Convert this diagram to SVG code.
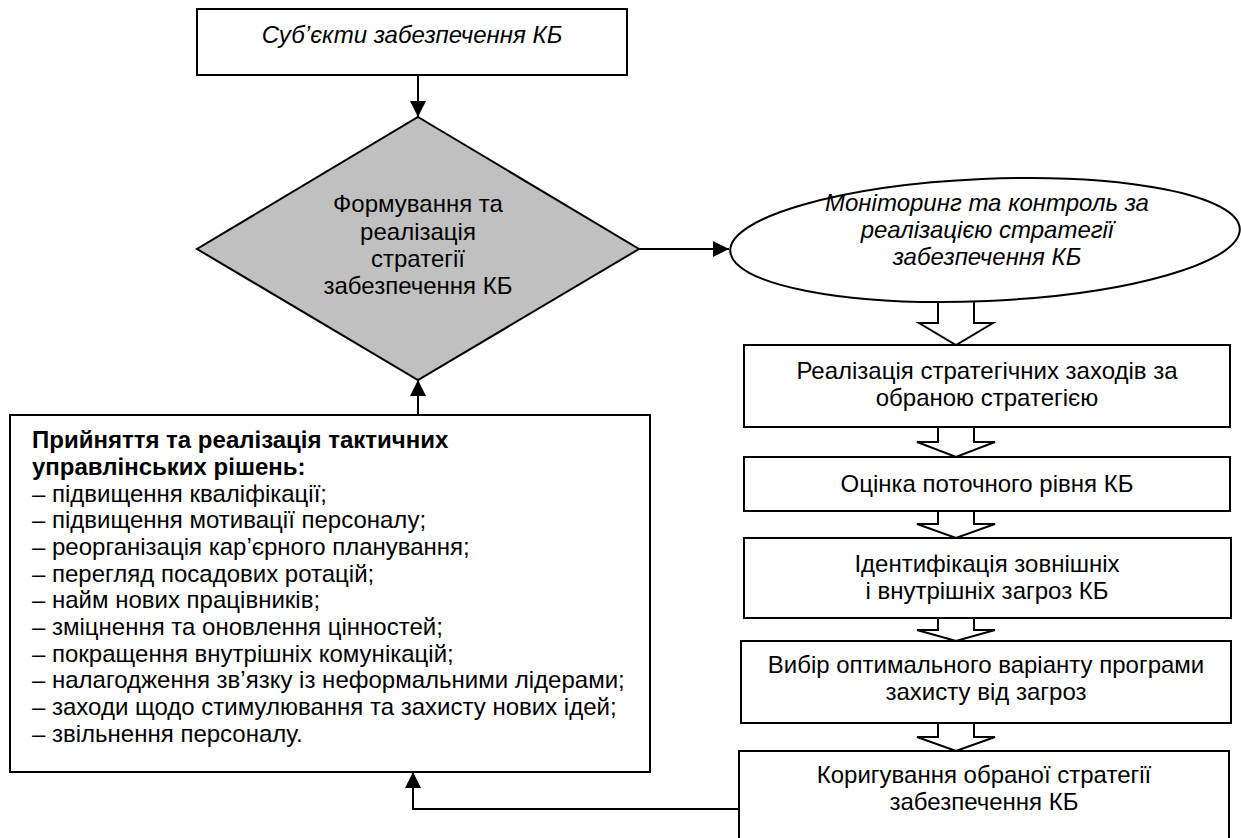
<svg xmlns="http://www.w3.org/2000/svg" width="1241" height="838" viewBox="0 0 1241 838">
<defs>
<style>
.box{fill:#fff;stroke:#000;stroke-width:2}
.dia{fill:#c0c0c0;stroke:#000;stroke-width:2}
.blk{fill:#fff;stroke:#000;stroke-width:2;stroke-linejoin:miter}
.ln{fill:none;stroke:#000;stroke-width:2}
text{font-family:"Liberation Sans",Arial,sans-serif;font-size:24px;fill:#000}
.c{text-anchor:middle}
.i{font-style:italic}
.b{font-weight:bold}
</style>
<marker id="ah" viewBox="0 0 16 16" refX="16" refY="8" markerWidth="16" markerHeight="16" markerUnits="userSpaceOnUse" orient="auto">
<path d="M0,0 L16,8 L0,16 Z" fill="#000"/>
</marker>
</defs>
<rect width="1241" height="838" fill="#fff"/>

<g id="connectors">
<path class="ln" d="M418,75 L418,117" marker-end="url(#ah)"/>
<path class="ln" d="M418,415 L418,380" marker-end="url(#ah)"/>
<path class="ln" d="M639,249 L729,249" marker-end="url(#ah)"/>
<path class="ln" d="M741,809 L413,809 L413,772" marker-end="url(#ah)"/>
<polyline class="blk" points="938,296 938,323 919,323 956,345 993,323 974,323 974,296"/>
<polyline class="blk" points="938,427 938,442 917,442 956,457 995,442 974,442 974,427"/>
<polyline class="blk" points="938,511 938,524 917,524 956,538 995,524 974,524 974,511"/>
<polyline class="blk" points="938,618 938,630 917,630 956,641 995,630 974,630 974,618"/>
<polyline class="blk" points="938,723 938,737 917,737 956,751 995,737 974,737 974,723"/>
</g>

<g id="subjects">
<rect class="box" x="197" y="9" width="430" height="66"/>
<text class="c i" x="412" y="43">Суб’єкти забезпечення КБ</text>
</g>

<g id="strategy">
<polygon class="dia" points="418,117 639,249 418,380 197,249"/>
<text class="c" x="418" y="212">Формування та</text>
<text class="c" x="418" y="239.5">реалізація</text>
<text class="c" x="418" y="267">стратегії</text>
<text class="c" x="418" y="294">забезпечення КБ</text>
</g>

<g id="monitoring">
<ellipse class="box" cx="985" cy="240" rx="255" ry="61" transform="rotate(-2.5 985 240)"/>
<text class="c i" x="987" y="211">Моніторинг та контроль за</text>
<text class="c i" x="987" y="238">реалізацією стратегії</text>
<text class="c i" x="987" y="265">забезпечення КБ</text>
</g>

<g id="implement">
<rect class="box" x="744" y="345" width="486" height="82"/>
<text class="c" x="987" y="379">Реалізація стратегічних заходів за</text>
<text class="c" x="987" y="406">обраною стратегією</text>
</g>

<g id="assess">
<rect class="box" x="744" y="457" width="486" height="54"/>
<text class="c" x="987" y="492">Оцінка поточного рівня КБ</text>
</g>

<g id="identify">
<rect class="box" x="744" y="538" width="487" height="80"/>
<text class="c" x="987" y="572">Ідентифікація зовнішніх</text>
<text class="c" x="987" y="599">і внутрішніх загроз КБ</text>
</g>

<g id="choose">
<rect class="box" x="741" y="641" width="490" height="82"/>
<text class="c" x="986" y="673">Вибір оптимального варіанту програми</text>
<text class="c" x="986" y="700">захисту від загроз</text>
</g>

<g id="correct">
<rect class="box" x="739" y="751" width="490" height="100"/>
<text class="c" x="984" y="783">Коригування обраної стратегії</text>
<text class="c" x="984" y="810">забезпечення КБ</text>
</g>

<g id="tactical">
<rect class="box" x="10" y="415" width="640" height="357"/>
<text class="b" x="32" y="448">Прийняття та реалізація тактичних</text>
<text class="b" x="32" y="475">управлінських рішень:</text>
<text x="32" y="502">– підвищення кваліфікації;</text>
<text x="32" y="528">– підвищення мотивації персоналу;</text>
<text x="32" y="555">– реорганізація кар’єрного планування;</text>
<text x="32" y="582">– перегляд посадових ротацій;</text>
<text x="32" y="608">– найм нових працівників;</text>
<text x="32" y="635">– зміцнення та оновлення цінностей;</text>
<text x="32" y="662">– покращення внутрішніх комунікацій;</text>
<text x="32" y="688">– налагодження зв’язку із неформальними лідерами;</text>
<text x="32" y="715">– заходи щодо стимулювання та захисту нових ідей;</text>
<text x="32" y="742">– звільнення персоналу.</text>
</g>
</svg>
